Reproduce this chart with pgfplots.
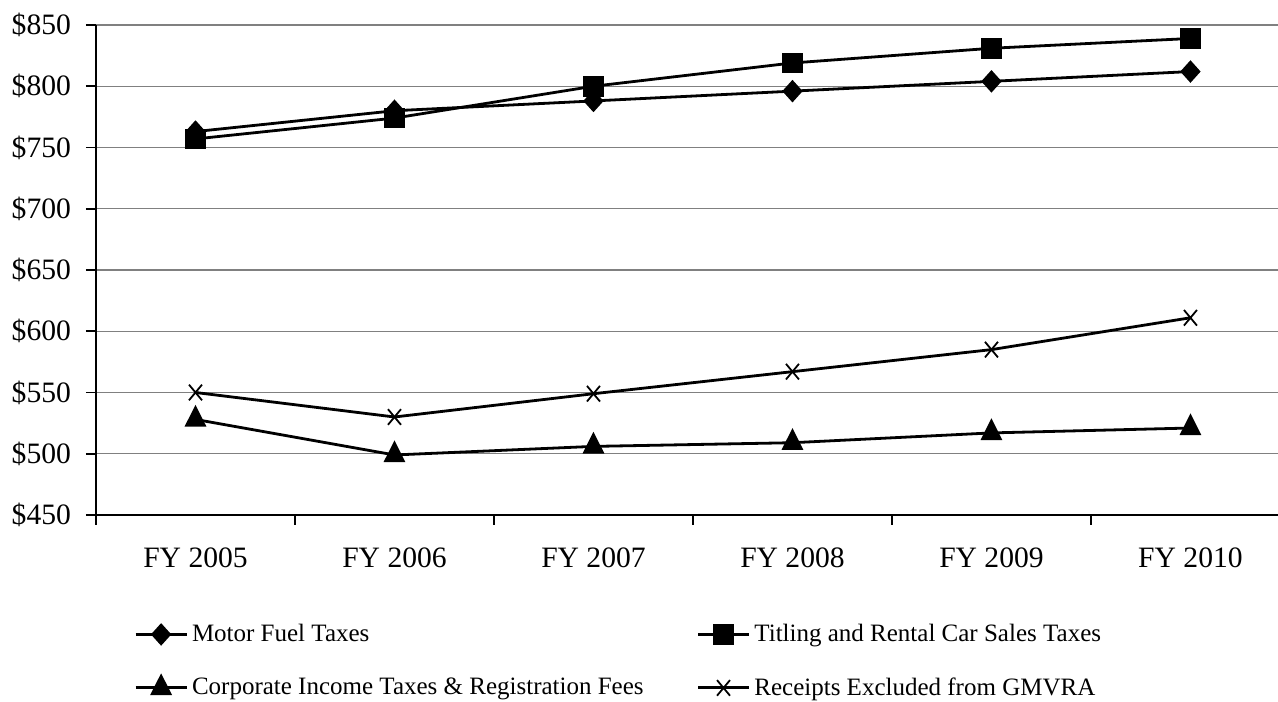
\documentclass[border=0pt]{standalone}
\usepackage{fontspec}
\setmainfont{Liberation Serif}
\usepackage{pgfplots}
\pgfplotsset{compat=1.18}

\begin{document}
\begin{tikzpicture}
\begin{axis}[
  name=ax,
  scale only axis,
  width=591pt, height=245pt,
  xmin=-0.5, xmax=5.44,
  ymin=450, ymax=850,
  axis x line*=bottom,
  axis y line*=left,
  axis line style={black, line width=0.8pt},
  ytick={450,500,...,850},
  yticklabels={\$450,\$500,\$550,\$600,\$650,\$700,\$750,\$800,\$850},
  xtick={-0.5,0.5,1.5,2.5,3.5,4.5},
  xticklabels={FY 2005,FY 2006,FY 2007,FY 2008,FY 2009,FY 2010},
  xticklabel style={xshift=49.75pt, yshift=-8pt},
  yticklabel style={xshift=-4pt},
  tick label style={font=\fontsize{14.8}{17}\selectfont},
  tick align=outside,
  major tick length=5pt,
  tick style={black, line width=0.8pt},
  ymajorgrids=true,
  grid style={gray, line width=0.6pt},
  legend columns=2,
  legend cell align=left,
  legend style={
    draw=none, fill=none, inner sep=0pt,
    at={(0.032,-0.214)}, anchor=north west,
    font=\fontsize{12.5}{14}\selectfont,
    row sep=12.5pt,
    /tikz/every even column/.append style={column sep=24.5pt},
  },
  legend image code/.code={%
    \draw[mark repeat=2, mark phase=2]
      plot coordinates {(0pt,0pt) (12.75pt,0pt) (25.5pt,0pt)};
  },
  every axis plot/.append style={black, line width=1.4pt},
]
\addplot[mark=diamond*, mark size=4.6pt, mark options={xscale=1.2}]
  coordinates {(0,763) (1,780) (2,788) (3,796) (4,804) (5,812)};
\addlegendentry{Motor Fuel Taxes}

\addplot[mark=square*, mark size=4.5pt]
  coordinates {(0,757) (1,774) (2,800) (3,819) (4,831) (5,839)};
\addlegendentry{Titling and Rental Car Sales Taxes}

\addplot[mark=triangle*, mark size=5pt, mark options={yscale=1.15}]
  coordinates {(0,528) (1,499) (2,506) (3,509) (4,517) (5,521)};
\addlegendentry{Corporate Income Taxes \& Registration Fees}

\addplot[mark=x, mark size=4.6pt, mark options={line width=0.9pt, yscale=1.2}]
  coordinates {(0,550) (1,530) (2,549) (3,567) (4,585) (5,611)};
\addlegendentry{Receipts Excluded from GMVRA}
\end{axis}
\pgfresetboundingbox
\path ([xshift=-48pt,yshift=-93.5pt]ax.south west) rectangle ([yshift=12.5pt]ax.north east);
\end{tikzpicture}
\end{document}
